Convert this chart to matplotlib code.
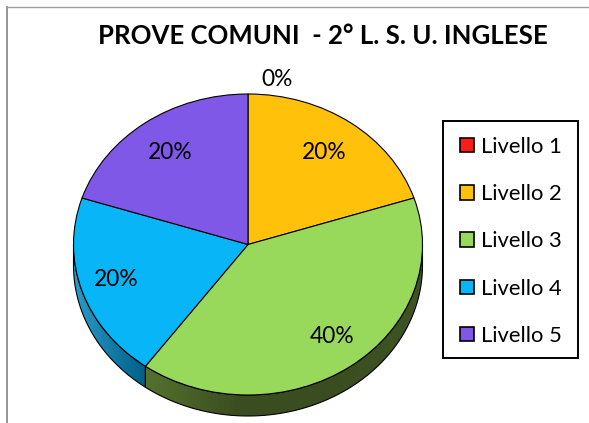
import numpy as np
import matplotlib
matplotlib.use("Agg")
import matplotlib.pyplot as plt
from matplotlib.colors import LinearSegmentedColormap
from matplotlib.patches import Polygon, Rectangle
from matplotlib.lines import Line2D

W, H = 589, 423
title = "PROVE COMUNI  - 2° L. S. U. INGLESE"
categories = ["Livello 1", "Livello 2", "Livello 3", "Livello 4", "Livello 5"]
values = [0, 20, 40, 20, 20]
labels = ["0%", "20%", "40%", "20%", "20%"]
colors = ["#FF1A1A", "#FFC10A", "#98D85B", "#08B6F7", "#8058E8"]
# wall gradient, left to right, for the wedges whose side is visible
wall_colors = {2: ["#55722E", "#3A4D20", "#3A4D20", "#3F5423"], 3: ["#2A9CCB", "#005E85"]}

plt.rcParams["font.family"] = ["Lato", "DejaVu Sans"]

cx, cy, rx, ry, depth = 248, 244.5, 174.5, 150.5, 21
fig = plt.figure(figsize=(W / 100, H / 100), dpi=100)
ax = fig.add_axes([0, 0, 1, 1])
wedges, _ = ax.pie(values, startangle=90, counterclock=False, colors=colors,
                   wedgeprops=dict(edgecolor="black", linewidth=0.8, zorder=5))
ax.set_aspect("auto")
ax.axis("off")

d = depth / ry
fracs = np.array(values, float) / sum(values)
ends = 90 - 360 * np.cumsum(fracs)
starts = np.r_[90, ends[:-1]]
for i, cols in wall_colors.items():
    # keep only the part of the wedge on the lower half of the ellipse
    t0 = min(starts[i], 0)
    t1 = max(ends[i], -180)
    t = np.radians(np.linspace(t0, t1, 80))
    x, y = np.cos(t), np.sin(t)
    pts = np.r_[np.c_[x, y], np.c_[x[::-1], y[::-1] - d]]
    poly = Polygon(pts, closed=True, facecolor="none", edgecolor="black", linewidth=0.8, zorder=3)
    ax.add_patch(poly)
    cmap = LinearSegmentedColormap.from_list(f"w{i}", cols)
    im = ax.imshow(np.linspace(0, 1, 256)[None, :], cmap=cmap, aspect="auto", zorder=2,
                   extent=(x.min(), x.max(), (y - d).min(), y.max()))
    im.set_clip_path(poly)
ax.set_xlim(-cx / rx, (W - cx) / rx)
ax.set_ylim((cy - H) / ry, cy / ry)

# value labels, placed in the figure's pixel frame
label_px = [(277, 79), (324, 152), (332, 336), (116, 280), (170, 152)]
px = lambda p: (p[0] / W, 1 - p[1] / H)
for s, p in zip(labels, label_px):
    ax.text(*px(p), s, transform=fig.transFigure, ha="center", va="center", fontsize=16.4, color="black", zorder=8)

ax.text(*px((323, 36)), title, transform=fig.transFigure, ha="center", va="center",
        fontsize=18.5, fontweight="bold", color="black", zorder=8)

# legend box drawn separately so its insets can differ per side
fig.add_artist(Rectangle((442.5 / W, 1 - 358 / H), 135.5 / W, 237 / H, transform=fig.transFigure,
                         facecolor="white", edgecolor="black", linewidth=1.4, zorder=8))
leg = ax.legend(wedges, categories, loc="upper left",
                bbox_to_anchor=(441.5 / W, 1 - 118 / H), bbox_transform=fig.transFigure,
                frameon=False, fontsize=15.8, handlelength=0.64, handleheight=0.64, handletextpad=0.32,
                labelspacing=1.245, borderpad=0.85, borderaxespad=0)
fig.add_artist(leg)
ax.legend_ = None
leg.set_zorder(9)
for h in leg.get_patches():
    h.set_edgecolor("black")
    h.set_linewidth(1.2)

# outer frame visible along the top and left
fig.add_artist(Line2D([6.5 / W, 6.5 / W], [0, 1 - 7 / H], color="#8C8C8C", lw=1.3))
fig.add_artist(Line2D([6 / W, 1], [1 - 7.5 / H, 1 - 7.5 / H], color="#A0A0A0", lw=1.0))

fig.savefig("out.png", dpi=100)
